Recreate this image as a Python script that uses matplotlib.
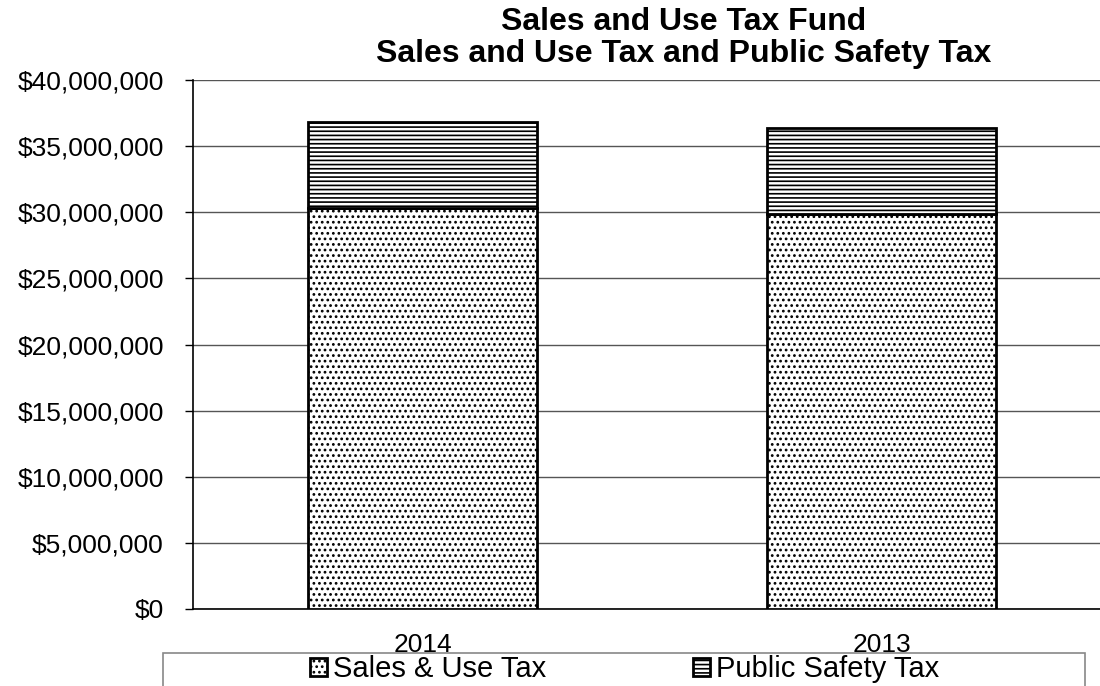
import matplotlib
matplotlib.use("Agg")
import matplotlib.pyplot as plt
from matplotlib.ticker import FuncFormatter
from matplotlib.patches import Rectangle

years = ["2014", "2013"]
sales_use_tax = [30350000, 29850000]
public_safety_tax = [6450000, 6550000]
series_names = ["Sales & Use Tax", "Public Safety Tax"]
title_lines = ["Sales and Use Tax Fund", "Sales and Use Tax and Public Safety Tax"]

plt.rcParams['font.family'] = ['Liberation Sans', 'DejaVu Sans']
plt.rcParams['hatch.linewidth'] = 1.2
plt.rcParams['hatch.color'] = 'black'

W, H = 1100, 686
fig = plt.figure(figsize=(11, 6.86), dpi=100)
ax = fig.add_axes([193/W, 1-609/H, 907/W, (609-80)/H])

x = list(range(len(years)))
b1 = ax.bar(x, sales_use_tax, width=0.5, color='white', edgecolor='black',
            linewidth=2, hatch='...', label=series_names[0], zorder=3)
b2 = ax.bar(x, public_safety_tax, width=0.5, bottom=sales_use_tax, color='white',
            edgecolor='black', linewidth=2, hatch='----', label=series_names[1], zorder=3)

ax.set_xlim(-0.5, 1.476)
ax.set_ylim(0, 40000000)
ax.set_yticks(range(0, 40000001, 5000000))
ax.yaxis.set_major_formatter(FuncFormatter(lambda v, p: "${:,.0f}".format(v)))
ax.set_xticks(x)
ax.set_xticklabels(years)
ax.tick_params(axis='y', labelsize=19, length=6, width=1, color='black', pad=15)
ax.tick_params(axis='x', labelsize=19, length=0, pad=17)
ax.grid(axis='y', color='#555555', linewidth=1, zorder=0)
ax.set_axisbelow(True)
for s in ['top', 'right']:
    ax.spines[s].set_visible(False)
ax.spines['left'].set_color('black')
ax.spines['bottom'].set_color('black')
ax.spines['left'].set_linewidth(1.2)
ax.spines['bottom'].set_linewidth(1.2)

fig.text(684/W, 1-30/H, title_lines[0], ha='center', va='baseline', fontsize=23, fontweight='bold')
fig.text(684/W, 1-62/H, title_lines[1], ha='center', va='baseline', fontsize=23, fontweight='bold')

# legend frame
fig.patches.append(Rectangle((163/W, -0.05), (1085-163)/W, (1-653/H) + 0.05,
                             transform=fig.transFigure, facecolor='none',
                             edgecolor='#888888', linewidth=1.2))

leg = fig.legend(handles=[b1, b2], labels=series_names, loc='center left',
                 bbox_to_anchor=(310/W, 1-669/H), ncol=2, fontsize=21, frameon=False,
                 handlelength=0.58, handleheight=0.58, handletextpad=0.2,
                 columnspacing=5.05, borderaxespad=0, borderpad=0)

fig.savefig("out.png", dpi=100)
